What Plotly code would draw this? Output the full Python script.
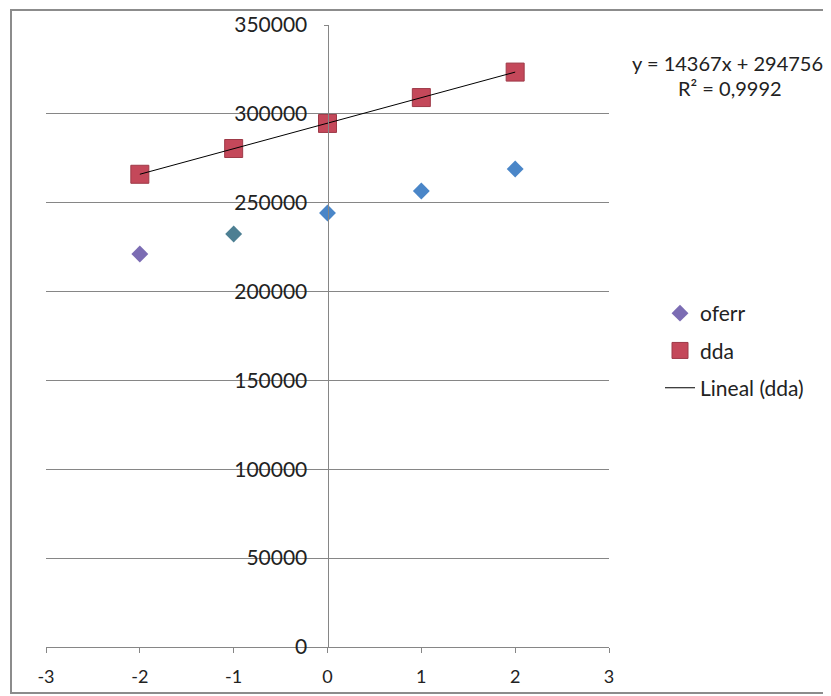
import numpy as np
import plotly.graph_objects as go

x_vals = [-2, -1, 0, 1, 2]
oferr = [221100, 232400, 244200, 256600, 269000]
dda = [266000, 280500, 294610, 309170, 323500]
oferr_colors = ["#7B6CB3", "#4D7F93", "#4A86C8", "#4A86C8", "#4A86C8"]
dda_color = "#C4485A"
x_ticks = [-3, -2, -1, 0, 1, 2, 3]
x_ticklabels = ["-3", "-2", "-1", "0", "1", "2", "3"]
y_ticks = [0, 50000, 100000, 150000, 200000, 250000, 300000, 350000]
y_ticklabels = ["0", "50000", "100000", "150000", "200000", "250000", "300000", "350000"]
eq_text = "y = 14367x + 294756"
r2_text = "R² = 0,9992"

slope, intercept = np.polyfit(x_vals, dda, 1)
trend_x = [x_vals[0], x_vals[-1]]
trend_y = [slope * v + intercept for v in trend_x]

FONT = "Lato"
OFF = 8  # browser body margin
W, H = 831 - OFF, 696 - OFF
PL, PR, PT, PB = 46, 609, 25, 647  # plot area in screen px
L, T = PL - OFF, PT - OFF
R, B = W - (PR - OFF), H - (PB - OFF)
pw, ph = PR - PL, PB - PT


def px(sx):
    return (sx - PL) / pw


def py(sy):
    return (PB - sy) / ph


fig = go.Figure()
fig.add_trace(go.Scatter(x=x_vals, y=oferr, mode="markers", name="oferr",
                         legendgroup="a",
                         marker=dict(symbol="diamond", size=13, color=oferr_colors,
                                     line=dict(width=0))))
fig.add_trace(go.Scatter(x=x_vals, y=dda, mode="markers", name="dda",
                         legendgroup="b",
                         marker=dict(symbol="square", size=18, color=dda_color,
                                     line=dict(width=1, color="#9E3A48"))))
fig.add_trace(go.Scatter(x=trend_x, y=trend_y, mode="lines", name="Lineal (dda)",
                         legendgroup="c",
                         line=dict(color="black", width=1)))

fig.update_layout(
    width=W, height=H,
    margin=dict(l=L, r=R, t=T, b=B, autoexpand=False),
    paper_bgcolor="white", plot_bgcolor="white",
    font=dict(family=FONT, size=18, color="#222"),
    showlegend=True,
    legend=dict(x=px(660), y=py(293), xanchor="left", yanchor="top",
                traceorder="grouped", tracegroupgap=7,
                font=dict(family=FONT, size=21, color="#222"),
                bgcolor="rgba(0,0,0,0)"),
    xaxis=dict(range=[-3, 3], tickvals=x_ticks, ticktext=x_ticklabels,
               showgrid=False, zeroline=False,
               showline=True, linecolor="#868686", linewidth=1,
               ticks="outside", ticklen=5, tickcolor="#868686",
               ticklabelstandoff=8,
               tickfont=dict(family=FONT, size=18, color="#222")),
    yaxis=dict(range=[0, 350000], tickvals=y_ticks, ticktext=y_ticklabels,
               showgrid=True, gridcolor="#868686", gridwidth=1, zeroline=False,
               anchor="free", position=0.5,
               showline=True, linecolor="#868686", linewidth=1,
               ticks="outside", ticklen=4, tickcolor="#868686",
               ticklabelstandoff=12,
               tickfont=dict(family=FONT, size=21, color="#222")),
)

fig.add_annotation(xref="paper", yref="paper", x=px(727), y=py(63),
                   text=eq_text, showarrow=False, xanchor="center", yanchor="middle",
                   font=dict(family=FONT, size=20, color="#222"))
fig.add_annotation(xref="paper", yref="paper", x=px(730), y=py(88),
                   text=r2_text, showarrow=False, xanchor="center", yanchor="middle",
                   font=dict(family=FONT, size=20, color="#222"))

fig.add_shape(type="rect", xref="paper", yref="paper",
              x0=px(11), x1=px(825), y0=py(693), y1=py(10),
              line=dict(color="#8C8C8C", width=2), fillcolor="rgba(0,0,0,0)", layer="below")

fig.write_html("out.html")
